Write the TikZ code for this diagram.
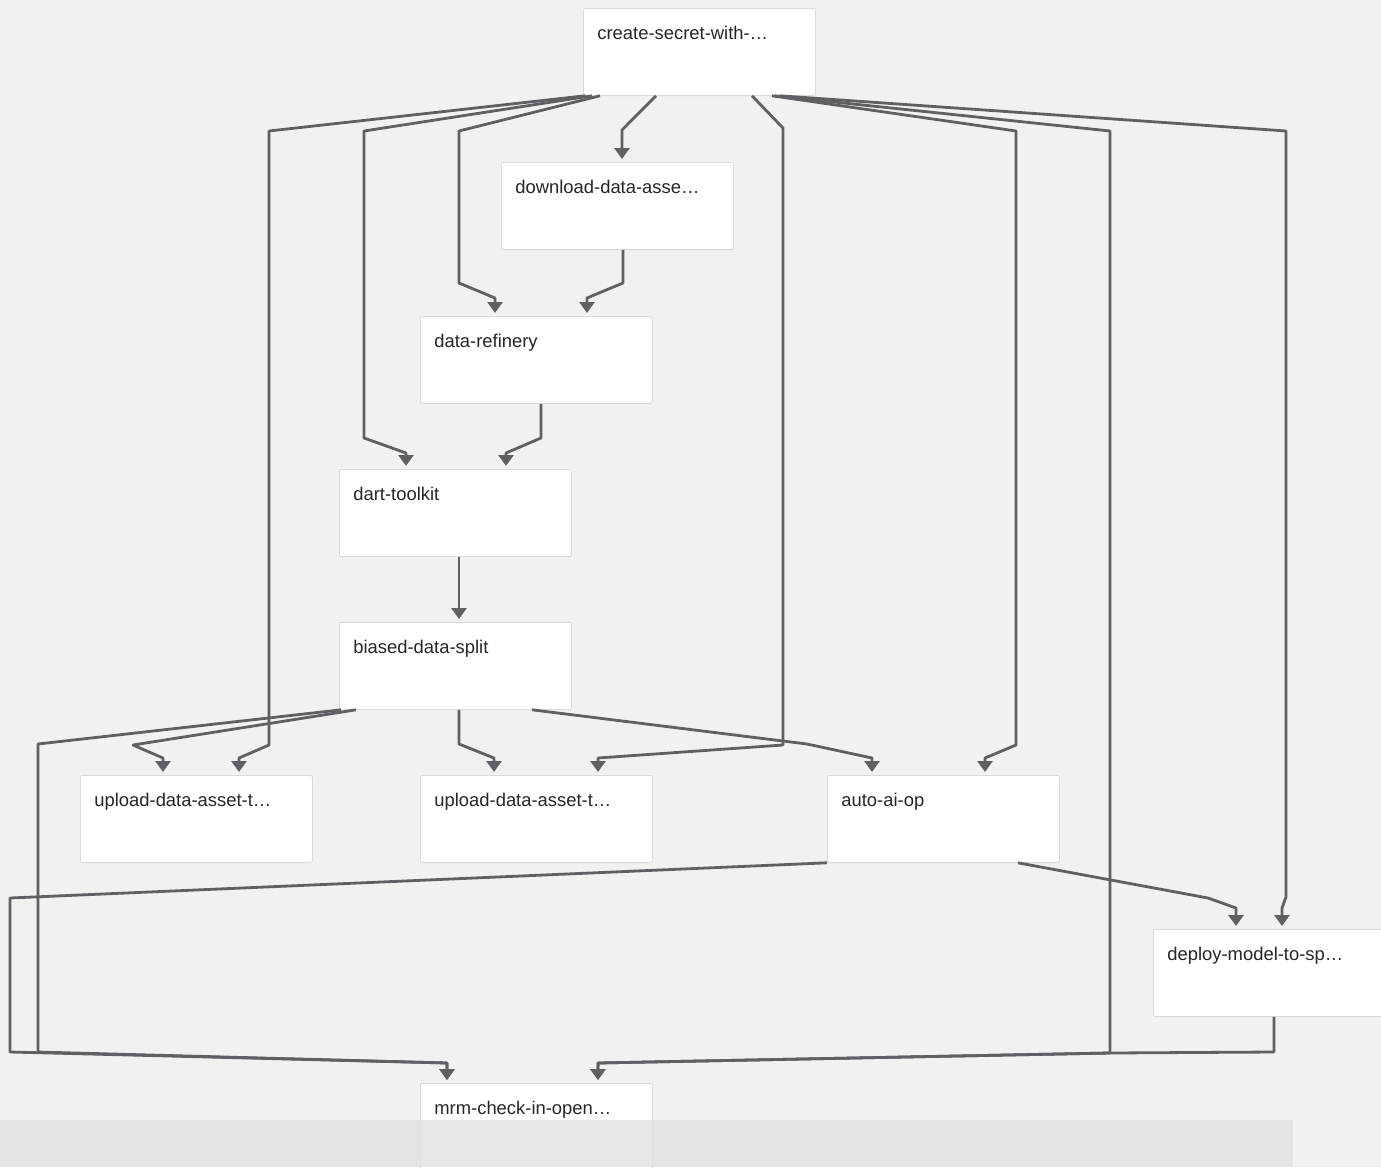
\documentclass[tikz,border=0pt]{standalone}
\usepackage{fontspec}
\setmainfont{Liberation Sans}
\usetikzlibrary{arrows.meta,shadows}
\definecolor{canvas}{RGB}{241,241,241}
\definecolor{wirec}{RGB}{94,96,99}
\definecolor{boxline}{RGB}{218,218,218}
\definecolor{labelc}{RGB}{38,38,38}
\definecolor{veil}{RGB}{226,226,226}

\begin{document}
\begin{tikzpicture}[x=1pt,y=-1pt,
  task/.style={draw=boxline, line width=0.8pt, fill=white, rounded corners=2pt,
    anchor=north west, text width=204pt, align=left,
    inner xsep=14pt, inner ysep=8pt, text height=23pt, text depth=48pt,
    font=\fontsize{18.4}{22}\selectfont, text=labelc,
    drop shadow={shadow xshift=0pt, shadow yshift=-1pt, opacity=0.06}},
  wire/.style={draw=wirec, line width=2.8pt, line join=round,
    -{Triangle[width=15pt,length=11pt]}, shorten >=3pt},
]
% canvas
\fill[canvas] (0,0) rectangle (1381,1167);
\useasboundingbox (0,0) rectangle (1381,1167);
\clip (0,0) rectangle (1381,1167);

% pipeline steps
\node[task] (cs)  at (583,8)    {create-secret-with-…};
\node[task] (dl)  at (501,162)  {download-data-asse…};
\node[task] (dr)  at (420,316)  {data-refinery};
\node[task] (dt)  at (339,469)  {dart-toolkit};
\node[task] (bd)  at (339,622)  {biased-data-split};
\node[task] (u1)  at (80,775)   {upload-data-asset-t…};
\node[task] (u2)  at (420,775)  {upload-data-asset-t…};
\node[task] (ai)  at (827,775)  {auto-ai-op};
\node[task] (dp)  at (1153,929) {deploy-model-to-sp…};
\node[task] (mrm) at (420,1083) {mrm-check-in-open…};

% dependencies of create-secret-with-…
\draw[wire] ([xshift=73pt]cs.south west) -- (622,130) -- ([xshift=121pt]dl.north west);
\draw[wire] ([xshift=17pt]cs.south west) -- (459,131) -- (459,283) -- (495,298) -- ([xshift=75pt]dr.north west);
\draw[wire] ([xshift=9pt]cs.south west) -- (364,131) -- (364,438) -- (406,453) -- ([xshift=67pt]dt.north west);
\draw[wire] ([xshift=2pt]cs.south west) -- (269,131) -- (269,745) -- (239,758) -- ([xshift=159pt]u1.north west);
\draw[wire] ([xshift=169pt]cs.south west) -- (783,128) -- (783,745) -- (598,758) -- ([xshift=178pt]u2.north west);
\draw[wire] ([xshift=189pt]cs.south west) -- (1016,131) -- (1016,745) -- (985,758) -- ([xshift=158pt]ai.north west);
\draw[wire] ([xshift=192pt]cs.south west) -- (1110,131) -- (1110,1053) -- (598,1063) -- ([xshift=178pt]mrm.north west);
\draw[wire] ([xshift=197pt]cs.south west) -- (1286,131) -- (1286,897) -- (1282,908) -- ([xshift=129pt]dp.north west);

% chain through the data preparation steps
\draw[wire] ([xshift=122pt]dl.south west) -- (623,283) -- (587,298) -- ([xshift=167pt]dr.north west);
\draw[wire] ([xshift=121pt]dr.south west) -- (541,438) -- (506,453) -- ([xshift=167pt]dt.north west);
\draw[wire] ([xshift=120pt]dt.south west) -- ([xshift=120pt]bd.north west);

% dependencies of biased-data-split
\draw[wire] ([xshift=17pt]bd.south west) -- (133,745) -- (163,758) -- ([xshift=83pt]u1.north west);
\draw[wire] ([xshift=2pt]bd.south west) -- (38,744) -- (38,1052) -- (447,1063) -- ([xshift=27pt]mrm.north west);
\draw[wire] ([xshift=120pt]bd.south west) -- (459,744) -- (494,758) -- ([xshift=74pt]u2.north west);
\draw[wire] ([xshift=193pt]bd.south west) -- (807,744) -- (872,758) -- ([xshift=45pt]ai.north west);

% dependencies of auto-ai-op
\draw[wire] (ai.south west) -- (10,898) -- (10,1052) -- (447,1063) -- ([xshift=27pt]mrm.north west);
\draw[wire] ([xshift=191pt]ai.south west) -- (1208,898) -- (1236,908) -- ([xshift=83pt]dp.north west);

% deploy-model-to-sp… into the final check
\draw[wire] ([xshift=121pt]dp.south west) -- (1274,1052) -- (1110,1053) -- (598,1063) -- ([xshift=178pt]mrm.north west);

% translucent bar along the bottom
\fill[veil, opacity=0.85] (0,1120) rectangle (1293,1167);
\end{tikzpicture}
\end{document}
